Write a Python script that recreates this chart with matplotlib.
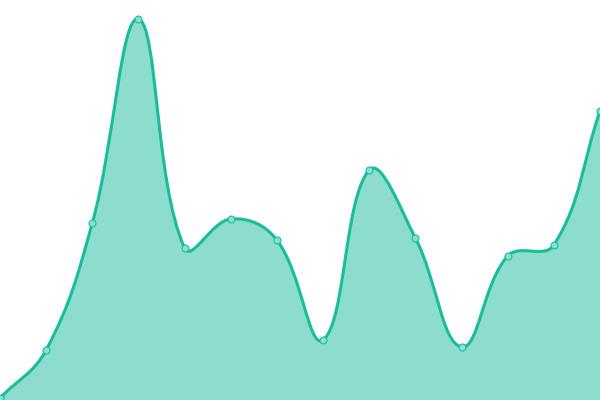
import numpy as np
import matplotlib
matplotlib.use("Agg")
import matplotlib.pyplot as plt
from matplotlib.path import Path
from matplotlib.patches import PathPatch

values = [2, 50, 177, 381, 152, 181, 160, 60, 230, 162, 53, 144, 155, 289]
x_idx = list(range(len(values)))

LINE = "#1abc9c"
FILL = (26/255, 188/255, 156/255, 0.5)
MARK = "#8ae0d0"

fig = plt.figure(figsize=(6, 4), dpi=100)
ax = fig.add_axes([0, 0, 1, 1])
ax.set_xlim(0, len(values) - 1)
ax.set_ylim(0, 400)
ax.axis("off")

# compute spline in display space (Chart.js-like, tension 0.4)
pts = ax.transData.transform(np.column_stack([x_idx, values]))
t = 0.4
n = len(pts)
cps_prev = np.zeros_like(pts)
cps_next = np.zeros_like(pts)
for i in range(n):
    cur = pts[i]
    prev = pts[i - 1] if i > 0 else cur
    nxt = pts[i + 1] if i < n - 1 else cur
    d01 = np.hypot(*(cur - prev))
    d12 = np.hypot(*(nxt - cur))
    tot = d01 + d12
    s01 = d01 / tot if tot else 0
    s12 = d12 / tot if tot else 0
    s01 = 0 if np.isnan(s01) else s01
    s12 = 0 if np.isnan(s12) else s12
    v = nxt - prev
    cps_prev[i] = cur - t * s01 * v
    cps_next[i] = cur + t * s12 * v

inv = ax.transData.inverted()
verts = [pts[0]]
codes = [Path.MOVETO]
for i in range(1, n):
    verts += [cps_next[i - 1], cps_prev[i], pts[i]]
    codes += [Path.CURVE4] * 3
verts_d = inv.transform(np.array(verts))

line_path = Path(verts_d, codes)
fill_verts = np.vstack([verts_d, [[x_idx[-1], 0], [x_idx[0], 0], verts_d[0]]])
fill_codes = codes + [Path.LINETO, Path.LINETO, Path.CLOSEPOLY]
fill_path = Path(fill_verts, fill_codes)

ax.add_patch(PathPatch(fill_path, facecolor=FILL, edgecolor="none", zorder=1))
ax.add_patch(PathPatch(line_path, facecolor="none", edgecolor=LINE, lw=2.2, zorder=2,
                       clip_on=False))
ax.plot(x_idx, values, linestyle="none", marker="o", markersize=5,
        markerfacecolor=MARK, markeredgecolor=LINE, markeredgewidth=0.8, zorder=3,
        clip_on=False)

fig.savefig("out.png", dpi=100)
